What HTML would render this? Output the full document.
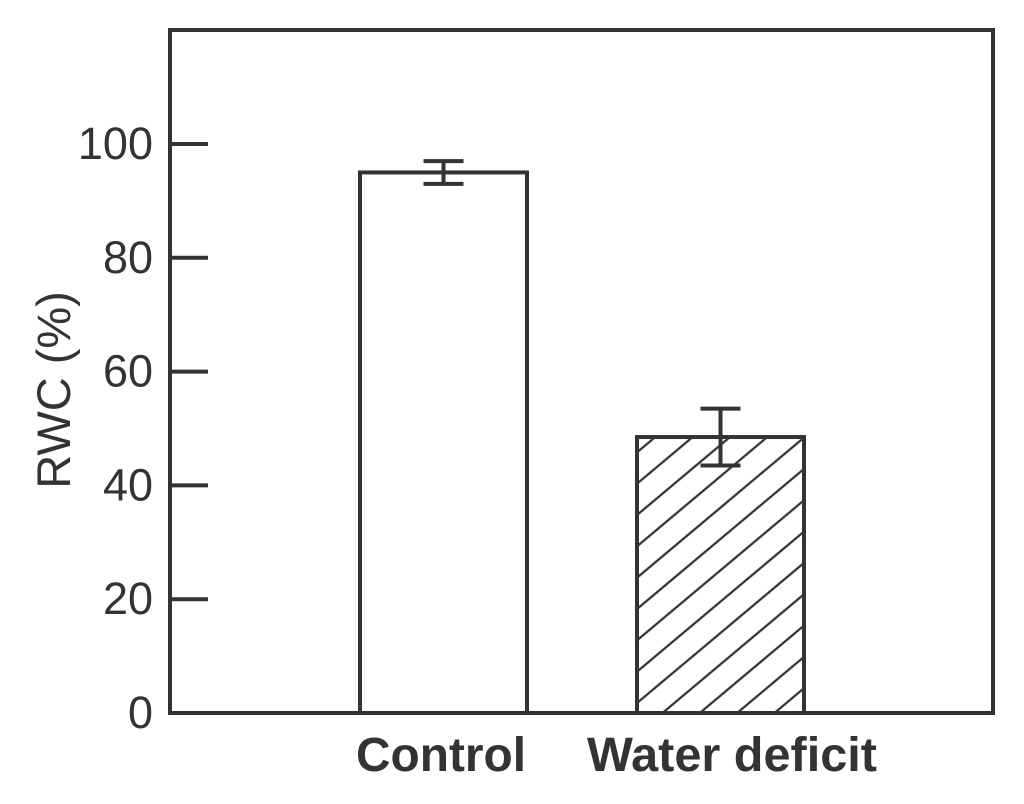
<!DOCTYPE html>
<html><head><meta charset="utf-8"><style>
body{margin:0;background:#fff;}
svg text{font-family:"Liberation Sans",sans-serif;fill:#333;}
</style></head><body>
<svg id="c" width="1024" height="799" viewBox="0 0 1024 799">
<defs>
<pattern id="hatch" patternUnits="userSpaceOnUse" width="24" height="24" patternTransform="rotate(-40)">
<line x1="0" y1="12" x2="24" y2="12" stroke="#333" stroke-width="2.2"/>
</pattern>
</defs>
<g id="plot"></g>
</svg>
<script>
const categories=["Control","Water deficit"];
const values=[95,48.5];
const errors=[2,5];
const fills=["#fff","url(#hatch)"];
const yTicks=[0,20,40,60,80,100];
const NS="http://www.w3.org/2000/svg";
const g=document.getElementById('plot');
const L=170,R=993,T=30,B=713;
const y=v=>B-(v/100)*(B-144);
const barX=[360,637],barW=167;
const labelX=[441,732],labelW=[170,290];
function el(t,a){const e=document.createElementNS(NS,t);for(const k in a)e.setAttribute(k,a[k]);g.appendChild(e);return e;}
yTicks.forEach(v=>{
 const l=el('line',{x1:L,x2:L+38,y1:y(v),y2:y(v),stroke:'#333','stroke-width':4});
 
 
 const t=el('text',{x:L-17,y:y(v)+15,'text-anchor':'end','font-size':45});
 t.textContent=v;
 
 
});
categories.forEach((c,i)=>{
 const top=y(values[i]);
 const r=el('rect',{x:barX[i],y:top,width:barW,height:B-top,fill:fills[i],stroke:'#333','stroke-width':4});
 
 
 const cx=barX[i]+barW/2,hi=y(values[i]+errors[i]),lo=y(values[i]-errors[i]);
 const e=el('path',{d:`M${cx-20},${hi}H${cx+20}M${cx},${hi}V${lo}M${cx-20},${lo}H${cx+20}`,stroke:'#333','stroke-width':4,fill:'none'});
 
 
 const t=el('text',{x:labelX[i]-labelW[i]/2,y:771,'font-size':48,'font-weight':'bold',textLength:labelW[i],lengthAdjust:'spacingAndGlyphs'});
 t.textContent=c;
 
 
});
const f=el('rect',{x:L,y:T,width:R-L,height:B-T,fill:'none',stroke:'#333','stroke-width':4});


const yt=el('text',{x:0,y:0,'text-anchor':'middle','font-size':47,transform:'translate(70,390) rotate(-90)'});
yt.textContent='RWC (%)';


</script>
</body></html>
